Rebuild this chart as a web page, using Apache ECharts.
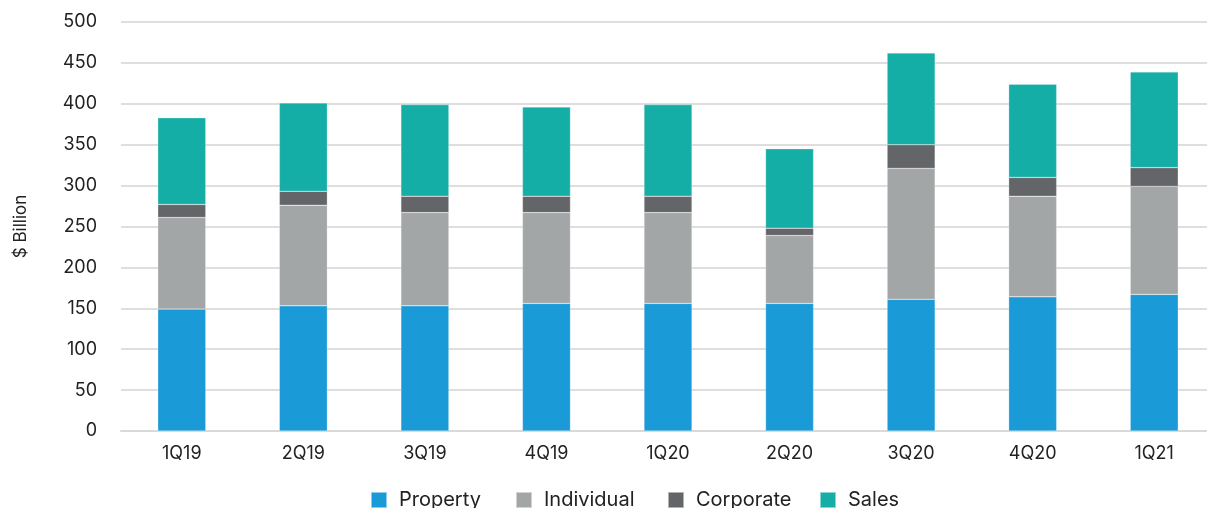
<!DOCTYPE html>
<html>
<head>
<meta charset="utf-8">
<script src="https://cdn.jsdelivr.net/npm/echarts@6/dist/echarts.min.js"></script>
<style>
html,body{margin:0;padding:0;background:#fff;overflow:hidden;width:1207px;height:508px;}
#chart{width:1220px;height:508px;}
</style>
</head>
<body>
<div id="chart"></div>
<script>
const categories = ['1Q19','2Q19','3Q19','4Q19','1Q20','2Q20','3Q20','4Q20','1Q21'];
const property   = [149, 153, 153, 156, 156, 156, 161, 164, 167];
const individual = [112, 123, 114, 111, 111, 83, 160, 123, 132];
const corporate  = [16, 17, 20, 20, 20, 9, 29, 23, 23];
const sales      = [106, 108, 112, 109, 112, 97, 112, 114, 117];
const yTicks = [0, 50, 100, 150, 200, 250, 300, 350, 400, 450, 500];

const FONT = 'Inter, "Open Sans", sans-serif';
const colors = ['#1a9ad6', '#a3a6a7', '#636569', '#14aea6'];
const names = ['Property', 'Individual', 'Corporate', 'Sales'];
const dataSets = [property, individual, corporate, sales];
const legendLefts = [370, 515, 667, 819];

const chart = echarts.init(document.getElementById('chart'), null, {renderer: 'canvas'});
chart.setOption({
  animation: false,
  backgroundColor: '#ffffff',
  color: colors,
  grid: {left: 121, width: 1094, top: 22, height: 409, containLabel: false},
  legend: names.map((n, i) => ({
    top: 490,
    left: legendLefts[i],
    padding: 0,
    itemWidth: 16,
    itemHeight: 16,
    icon: 'rect',
    textStyle: {fontFamily: FONT, fontSize: 20, color: '#222', padding: [0, 0, 0, 7]},
    data: [n]
  })),
  xAxis: {
    type: 'category',
    data: categories,
    axisLine: {lineStyle: {color: '#d9d9d9', width: 2}},
    axisTick: {show: false},
    axisLabel: {fontFamily: FONT, fontSize: 18, color: '#222', margin: 14}
  },
  yAxis: {
    type: 'value',
    min: yTicks[0],
    max: yTicks[yTicks.length - 1],
    interval: 50,
    name: '$ Billion',
    nameLocation: 'middle',
    nameGap: 92,
    nameRotate: 90,
    nameTextStyle: {fontFamily: FONT, fontSize: 17, color: '#222'},
    axisLine: {show: false},
    axisTick: {show: false},
    axisLabel: {fontFamily: FONT, fontSize: 18, color: '#222', margin: 24},
    splitLine: {lineStyle: {color: '#dedede', width: 2}}
  },
  series: dataSets.map((d, i) => ({
    name: names[i],
    type: 'bar',
    stack: 'total',
    barWidth: 48,
    data: d,
    itemStyle: {color: colors[i], borderColor: 'rgba(255,255,255,0.5)', borderWidth: 0.5}
  }))
});
</script>
</body>
</html>
